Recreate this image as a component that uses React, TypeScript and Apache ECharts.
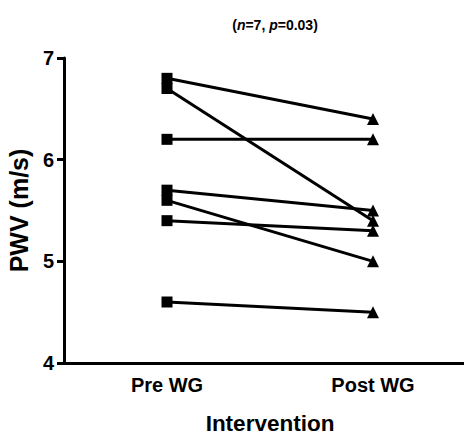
import React, { useEffect, useRef } from "react";
import * as echarts from "echarts";

const categories = ["Pre WG", "Post WG"];
const preValues = [6.8, 6.7, 6.2, 5.7, 5.6, 5.4, 4.6];
const postValues = [6.4, 5.4, 6.2, 5.5, 5.0, 5.3, 4.5];
const yTicks = { min: 4, max: 7, interval: 1 };

const FONT = "'Liberation Sans', Arial, Helvetica, sans-serif";

export default function App() {
  const ref = useRef<HTMLDivElement>(null);
  useEffect(() => {
    document.body.style.margin = "0";
    if (!ref.current) return;
    const chart = echarts.init(ref.current, undefined, { renderer: "svg" });
    const series = preValues.map((pre, i) => ({
      type: "line",
      data: [
        { value: pre, symbol: "rect", symbolSize: 11 },
        { value: postValues[i], symbol: "triangle", symbolSize: 12 },
      ],
      lineStyle: { color: "#000", width: 3 },
      itemStyle: { color: "#000" },
      showAllSymbol: true,
      silent: true,
    }));
    chart.setOption({
      animation: false,
      backgroundColor: "#fff",
      title: {
        text: "({i|n}=7, {i|p}=0.03)",
        left: 270,
        textAlign: "center",
        top: 13,
        textStyle: {
          fontFamily: FONT,
          fontSize: 14,
          fontWeight: "bold",
          color: "#000",
          rich: {
            i: {
              fontFamily: FONT,
              fontSize: 14,
              fontWeight: "bold",
              fontStyle: "italic",
              color: "#000",
            },
          },
        },
      },
      grid: { left: 64, top: 58, width: 412, height: 305, outerBoundsMode: "none", containLabel: false },
      xAxis: {
        type: "category",
        data: categories,
        boundaryGap: true,
        name: "Intervention",
        nameLocation: "middle",
        nameGap: 49,
        nameTextStyle: { fontFamily: FONT, fontSize: 22.5, fontWeight: "bold", color: "#000" },
        axisLine: { lineStyle: { color: "#000", width: 3 } },
        axisTick: { alignWithLabel: true, length: 7, lineStyle: { color: "#000", width: 3 } },
        axisLabel: { fontFamily: FONT, fontSize: 20, fontWeight: "bold", color: "#000", margin: 12 },
      },
      yAxis: {
        type: "value",
        min: yTicks.min,
        max: yTicks.max,
        interval: yTicks.interval,
        name: "PWV (m/s)",
        nameLocation: "middle",
        nameGap: 31,
        nameTextStyle: { fontFamily: FONT, fontSize: 25, fontWeight: "bold", color: "#000" },
        axisLine: { show: true, lineStyle: { color: "#000", width: 3 } },
        axisTick: { show: true, length: 7, lineStyle: { color: "#000", width: 3 } },
        axisLabel: { fontFamily: FONT, fontSize: 20, fontWeight: "bold", color: "#000", margin: 10 },
        splitLine: { show: false },
      },
      series,
    });
    return () => chart.dispose();
  }, []);
  return <div ref={ref} style={{ width: 464, height: 435 }} />;
}
